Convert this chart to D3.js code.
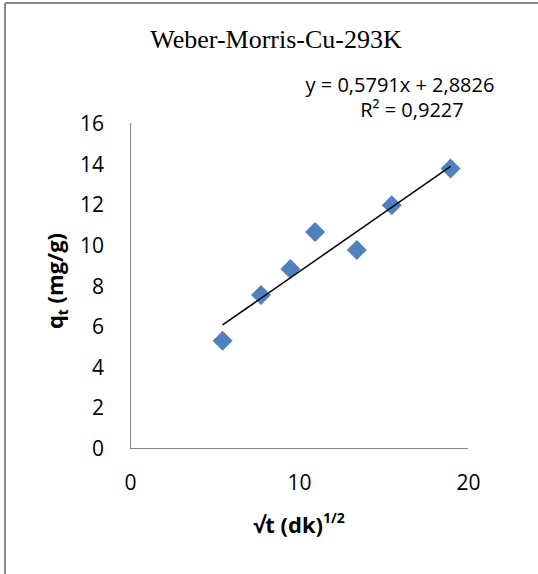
<!DOCTYPE html>
<html><head><meta charset="utf-8">
<script src="https://cdn.jsdelivr.net/npm/d3@7"></script>
<style>body{margin:0;background:#fff}svg{display:block}</style>
</head><body>
<script>
const title = "Weber-Morris-Cu-293K";
const xValues = [5.48, 7.75, 9.49, 10.95, 13.42, 15.49, 18.97];
const yValues = [5.28, 7.53, 8.81, 10.63, 9.75, 11.95, 13.76];
const trendSlope = 0.5791;
const trendIntercept = 2.8826;
const xTicks = [0, 10, 20];
const yTicks = [0, 2, 4, 6, 8, 10, 12, 14, 16];
const eqLine1 = "y = 0,5791x + 2,8826";
const eqLine2 = "R² = 0,9227";

const W = 538, H = 574;
const svg = d3.select("body").append("svg").attr("width", W).attr("height", H);

// outer frame (left + top visible)
svg.append("line").attr("x1",5).attr("y1",3).attr("x2",W).attr("y2",3).attr("stroke","#8a8a8a").attr("stroke-width",2);
svg.append("line").attr("x1",5).attr("y1",3).attr("x2",5).attr("y2",H).attr("stroke","#8a8a8a").attr("stroke-width",2);

const x = d3.scaleLinear().domain([0,20]).range([130,468]);
const y = d3.scaleLinear().domain([0,16]).range([448,123]);

const sans = "'Open Sans', sans-serif";

// axes
const yAxis = d3.axisLeft(y).tickValues(yTicks).tickSize(0).tickPadding(26).tickFormat(d3.format("d"));
const gy = svg.append("g").attr("transform",`translate(${x(0)},0)`).call(yAxis);
gy.select(".domain").attr("stroke","#868686").attr("d",`M0.5,${y(16)}V${y(0)+0.5}`);
gy.selectAll("text").attr("font-family",sans).attr("font-size",21).attr("fill","#000").attr("dy","0.36em");

const xAxis = d3.axisBottom(x).tickValues(xTicks).tickSize(0).tickPadding(0).tickFormat(d3.format("d"));
const gx = svg.append("g").attr("transform",`translate(0,${y(0)})`).call(xAxis);
gx.select(".domain").attr("stroke","#868686").attr("d",`M${x(0)},0.5H${x(20)}`);
gx.selectAll("text").attr("font-family",sans).attr("font-size",21).attr("fill","#000").attr("y",42).attr("dy",0);

// points
const data = xValues.map((v,i)=>({x:v,y:yValues[i]}));
svg.append("g").selectAll("path").data(data).join("path")
  .attr("d", d3.symbol().type(d3.symbolSquare).size(200))
  .attr("transform", d=>`translate(${x(d.x)},${y(d.y)}) rotate(45)`)
  .attr("fill","#4f81bd");

// trend line
const ext = d3.extent(xValues);
svg.append("line")
  .attr("x1", x(ext[0])).attr("y1", y(trendSlope*ext[0]+trendIntercept))
  .attr("x2", x(ext[1])).attr("y2", y(trendSlope*ext[1]+trendIntercept))
  .attr("stroke","#000").attr("stroke-width",1.5);

// title
svg.append("text").attr("x",276).attr("y",48).attr("text-anchor","middle")
  .attr("font-family","'Liberation Serif', 'Times New Roman', serif").attr("font-size",26).text(title);

// equation
svg.append("text").attr("x",400).attr("y",92).attr("text-anchor","middle")
  .attr("font-family",sans).attr("font-size",20).text(eqLine1);
svg.append("text").attr("x",412).attr("y",117).attr("text-anchor","middle")
  .attr("font-family",sans).attr("font-size",20).text(eqLine2);

// x-axis title
const xt = svg.append("text").attr("x",299).attr("y",533).attr("text-anchor","middle")
  .attr("font-family",sans).attr("font-size",22).attr("font-weight","bold");
xt.append("tspan").text("√t (dk)");
xt.append("tspan").attr("font-size",14).attr("dy",-10).text("1/2");

// y-axis title
const yt = svg.append("text").attr("transform","translate(63,281) rotate(-90)").attr("text-anchor","middle")
  .attr("font-family",sans).attr("font-size",22).attr("font-weight","bold");
yt.append("tspan").text("q");
yt.append("tspan").attr("font-size",14).attr("dy",5).text("t");
yt.append("tspan").attr("dy",-5).text(" (mg/g)");
</script>
</body></html>
